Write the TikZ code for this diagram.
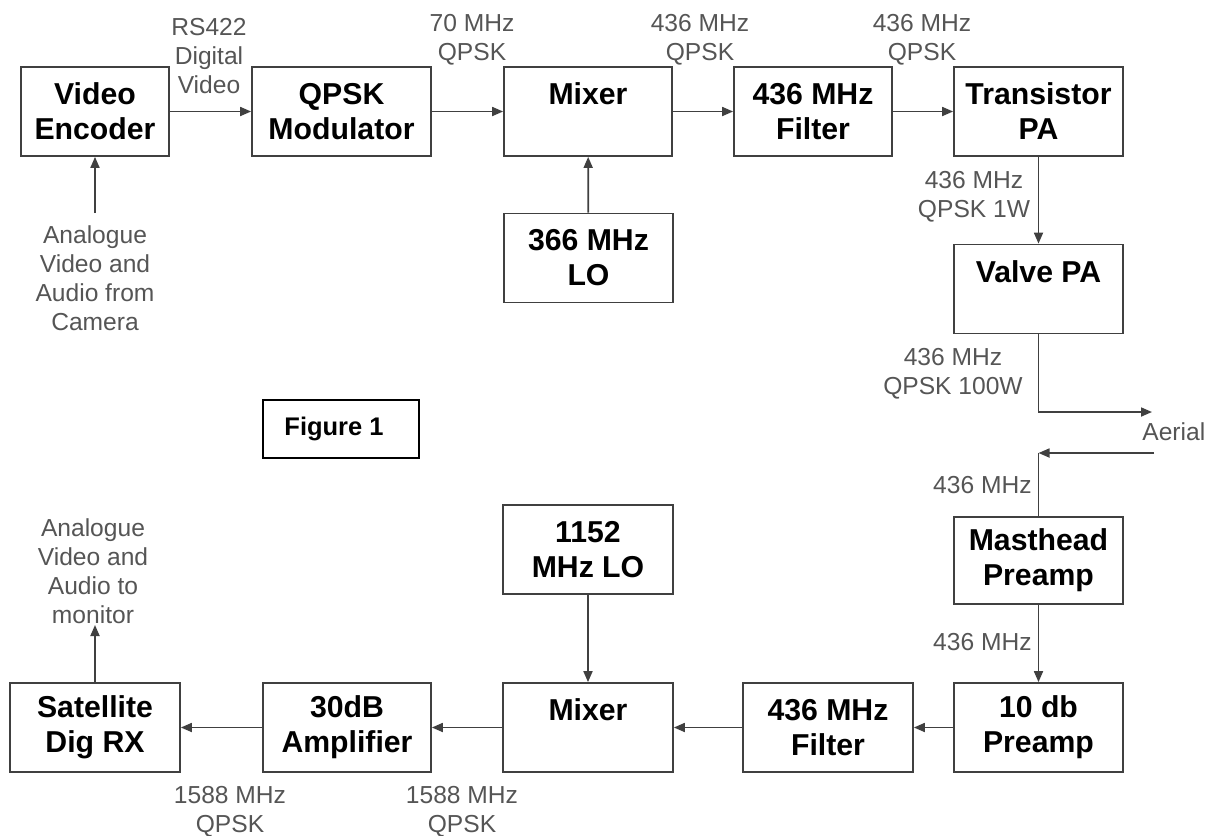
\documentclass[tikz,border=0pt]{standalone}
\usepackage{fontspec}
\setmainfont{Liberation Sans}
\usetikzlibrary{arrows.meta,positioning,calc}
\definecolor{linegray}{RGB}{64,64,64}
\definecolor{labelgray}{RGB}{85,85,85}

\begin{document}
\begin{tikzpicture}[x=0.02cm,y=-0.02cm,
  blk/.style={draw=linegray,line width=1pt,minimum height=1.78cm,inner sep=0pt,
    align=center,font=\fontsize{17.2}{19.9}\selectfont\bfseries},
  lbl/.style={labelgray,align=center,inner sep=0pt,font=\fontsize{14}{16.5}\selectfont},
  arr/.style={linegray,line width=1pt,-{Triangle[length=0.22cm,width=0.18cm]}},
  wire/.style={linegray,line width=1pt}]
\useasboundingbox (0,0) rectangle (1205,836);

% transmit chain
\node[blk,minimum width=2.96cm] (venc) at (95,111.5) {Video\\Encoder};
\node[blk,minimum width=3.58cm] (qpsk) at (341.5,111.5) {QPSK\\Modulator};
\node[blk,minimum width=3.36cm] (mixtx) at (588,111.5) {Mixer\\\phantom{M}};
\node[blk,minimum width=3.16cm] (filttx) at (813,111.5) {436 MHz\\Filter};
\node[blk,minimum width=3.38cm] (tpa) at (1038.5,111.5) {Transistor\\PA};
\node[blk,minimum width=3.38cm] (lotx) at (588.5,258) {366 MHz\\LO};
\node[blk,minimum width=3.38cm] (vpa) at (1038.5,289) {Valve PA\\\phantom{M}};

% receive chain
\node[blk,minimum width=3.38cm,minimum height=1.74cm] (mast) at (1038.5,560.5) {Masthead\\Preamp};
\node[blk,minimum width=3.38cm] (pre) at (1038.5,727.5) {10 db\\Preamp};
\node[blk,minimum width=3.40cm] (filtrx) at (828,727.5) {436 MHz\\Filter};
\node[blk,minimum width=3.40cm] (mixrx) at (588,727.5) {Mixer\\\phantom{M}};
\node[blk,minimum width=3.36cm] (amp) at (347,727.5) {30dB\\Amplifier};
\node[blk,minimum width=3.40cm] (sat) at (95,727.5) {Satellite\\Dig RX};
\node[blk,minimum width=3.40cm] (lorx) at (588,549.5) {1152\\MHz LO};

\node[draw=black,line width=1.1pt,minimum width=3.12cm,minimum height=1.16cm,
  font=\fontsize{14.5}{17}\selectfont\bfseries] (fig) at (341,429) {Figure 1\hspace*{0.28cm}};

% free ends
\coordinate (camin) at (95,213);
\coordinate (monout) at (95,625);
\coordinate (aerout) at (1152,412);
\coordinate (aerin) at (1154,453);
\coordinate (aerknee) at (mast.north |- aerin);

% connectors
\draw[arr] (camin) -- (venc.south);
\draw[arr] (venc) -- (qpsk);
\draw[arr] (qpsk) -- (mixtx);
\draw[arr] (mixtx) -- (filttx);
\draw[arr] (filttx) -- (tpa);
\draw[arr] (lotx) -- (mixtx);
\draw[arr] (tpa) -- (vpa);
\draw[arr] (vpa.south) |- (aerout);
\draw[arr] (aerin) -- (aerknee);
\draw[wire] (aerknee) -- (mast.north);
\draw[arr] (mast) -- (pre);
\draw[arr] (pre) -- (filtrx);
\draw[arr] (filtrx) -- (mixrx);
\draw[arr] (lorx) -- (mixrx);
\draw[arr] (mixrx) -- (amp);
\draw[arr] (amp) -- (sat);
\draw[arr] (sat.north) -- (monout);

% signal labels
\node[lbl] (lrs) at (209,56) {RS422\\Digital\\Video};
\node[lbl] (l70) at (472,40) {70 MHz\\QPSK};
\node[lbl] (lmix) at (700,40) {436 MHz\\QPSK};
\node[lbl] (lfilt) at (922,40) {436 MHz\\QPSK};
\node[lbl] (l1w) at (974,197) {436 MHz\\QPSK 1W};
\node[lbl] (l100w) at (953,374) {436 MHz\\QPSK 100W};
\node[lbl,anchor=west] (laer) at (1142,432) {Aerial};
\node[lbl,anchor=east] (lmast) at (1032,485) {436 MHz};
\node[lbl,anchor=east] (lpre) at (1032,642) {436 MHz};
\node[lbl] (lcam) at (95,278) {Analogue\\Video and\\Audio from\\Camera};
\node[lbl] (lmon) at (93,571.5) {Analogue\\Video and\\Audio to\\monitor};
\node[lbl] (lsat) at (230,812) {1588 MHz\\QPSK};
\node[lbl] (lamp) at (462,812) {1588 MHz\\QPSK};
\end{tikzpicture}
\end{document}
